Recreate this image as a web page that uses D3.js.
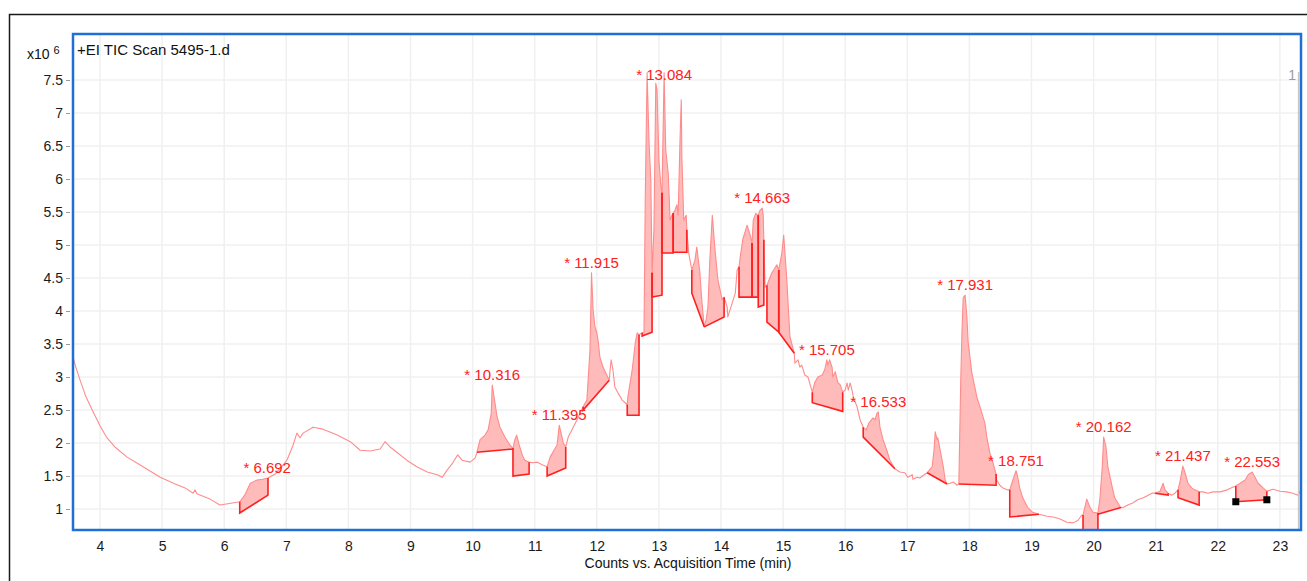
<!DOCTYPE html>
<html>
<head>
<meta charset="utf-8">
<script src="https://cdn.jsdelivr.net/npm/d3@7/dist/d3.min.js"></script>
<style>
  html, body { margin: 0; padding: 0; background: #fff; }
  svg { display: block; font-family: "Liberation Sans", Arial, Helvetica, sans-serif; }
</style>
</head>
<body>
<svg id="chart" width="1307" height="581"></svg>
<script>
// TIC trace: retention time (min) and abundance (x10^6 counts)
const retentionTime = [
  3.57, 3.61, 3.68, 3.77, 3.89, 4.00, 4.11, 4.24, 4.43, 4.64, 4.97, 5.21, 5.37, 5.50, 5.53, 5.56, 5.77, 5.93, 6.06, 6.25,
  6.33, 6.42, 6.53, 6.62, 6.705, 6.82, 6.95, 7.01, 7.11, 7.17, 7.22, 7.27, 7.43, 7.59, 7.82, 8.03, 8.19, 8.35, 8.51, 8.59,
  8.67, 8.78, 8.94, 9.10, 9.27, 9.43, 9.51, 9.59, 9.68, 9.76, 9.83, 9.96, 10.04, 10.07, 10.12, 10.20, 10.25, 10.30, 10.316, 10.36,
  10.39, 10.44, 10.52, 10.60, 10.65, 10.68, 10.71, 10.75, 10.80, 10.84, 10.91, 10.97, 11.04, 11.12, 11.20, 11.25, 11.33, 11.36, 11.395, 11.44,
  11.46, 11.50, 11.54, 11.60, 11.68, 11.78, 11.84, 11.86, 11.89, 11.915, 11.94, 11.97, 12.00, 12.02, 12.05, 12.10, 12.16, 12.20, 12.23, 12.26,
  12.29, 12.34, 12.41, 12.49, 12.50, 12.57, 12.62, 12.65, 12.68, 12.73, 12.76, 12.78, 12.81, 12.84, 12.87, 12.89, 12.92, 12.95, 12.97, 13.00,
  13.03, 13.05, 13.065, 13.084, 13.11, 13.15, 13.18, 13.21, 13.23, 13.26, 13.29, 13.31, 13.34, 13.36, 13.37, 13.40, 13.44, 13.45, 13.48, 13.53,
  13.58, 13.61, 13.66, 13.69, 13.73, 13.76, 13.79, 13.82, 13.86, 13.90, 13.95, 14.02, 14.05, 14.10, 14.11, 14.18, 14.23, 14.26, 14.29, 14.31,
  14.35, 14.42, 14.47, 14.50, 14.52, 14.56, 14.60, 14.63, 14.663, 14.68, 14.69, 14.71, 14.74, 14.82, 14.90, 14.93, 14.98, 15.01, 15.06, 15.11,
  15.18, 15.19, 15.24, 15.27, 15.30, 15.35, 15.40, 15.47, 15.51, 15.56, 15.63, 15.67, 15.705, 15.72, 15.75, 15.79, 15.80, 15.84, 15.88, 15.92,
  15.96, 16.00, 16.03, 16.05, 16.08, 16.11, 16.13, 16.19, 16.24, 16.29, 16.34, 16.38, 16.45, 16.48, 16.51, 16.533, 16.56, 16.61, 16.67, 16.72,
  16.80, 16.88, 16.96, 17.01, 17.08, 17.09, 17.16, 17.20, 17.29, 17.32, 17.40, 17.43, 17.45, 17.48, 17.49, 17.53, 17.58, 17.61, 17.64, 17.69,
  17.74, 17.80, 17.83, 17.86, 17.88, 17.90, 17.931, 17.96, 17.98, 18.04, 18.12, 18.17, 18.25, 18.28, 18.33, 18.38, 18.43, 18.44, 18.49, 18.54,
  18.61, 18.65, 18.70, 18.751, 18.77, 18.81, 18.86, 18.94, 19.02, 19.12, 19.25, 19.35, 19.46, 19.57, 19.67, 19.75, 19.81, 19.83, 19.89, 19.94,
  19.99, 20.07, 20.10, 20.14, 20.162, 20.20, 20.23, 20.30, 20.34, 20.43, 20.47, 20.55, 20.63, 20.71, 20.80, 20.88, 20.94, 20.99, 21.07, 21.12,
  21.15, 21.20, 21.26, 21.31, 21.36, 21.39, 21.437, 21.47, 21.52, 21.58, 21.63, 21.70, 21.76, 21.84, 21.92, 22.04, 22.15, 22.24, 22.29, 22.36,
  22.44, 22.49, 22.553, 22.60, 22.65, 22.73, 22.79, 22.89, 23.00, 23.11, 23.21, 23.29, 23.34
];
const abundance = [
  3.29, 3.15, 2.95, 2.71, 2.47, 2.26, 2.08, 1.94, 1.79, 1.67, 1.48, 1.38, 1.32, 1.24, 1.29, 1.23, 1.15, 1.06, 1.08, 1.11,
  1.21, 1.39, 1.44, 1.45, 1.47, 1.53, 1.67, 1.74, 1.97, 2.15, 2.08, 2.15, 2.24, 2.21, 2.12, 2.02, 1.89, 1.88, 1.91, 2.02,
  1.94, 1.86, 1.74, 1.64, 1.56, 1.52, 1.48, 1.59, 1.70, 1.82, 1.74, 1.71, 1.77, 1.86, 2.05, 2.12, 2.20, 2.45, 2.88, 2.61,
  2.42, 2.24, 2.09, 1.97, 1.92, 2.05, 2.12, 1.97, 1.82, 1.74, 1.71, 1.70, 1.71, 1.67, 1.64, 1.79, 1.92, 1.97, 2.27, 2.09,
  2.00, 1.94, 2.09, 2.20, 2.35, 2.55, 2.65, 2.95, 3.41, 4.58, 4.02, 3.76, 3.67, 3.56, 3.30, 3.15, 3.03, 2.95, 3.26, 3.11,
  2.85, 2.76, 2.65, 2.58, 2.70, 3.11, 3.52, 3.67, 3.64, 3.67, 3.67, 5.68, 7.61, 6.59, 5.98, 4.58, 5.23, 7.45, 7.35, 6.29,
  5.91, 5.79, 6.59, 7.61, 6.44, 6.09, 5.38, 5.45, 5.48, 5.53, 5.61, 5.45, 6.59, 7.20, 6.33, 5.38, 5.45, 5.23, 4.88, 4.62,
  4.77, 4.97, 4.58, 4.17, 3.76, 3.86, 4.06, 4.77, 5.45, 4.97, 4.47, 4.17, 4.21, 4.06, 3.91, 4.12, 4.27, 4.62, 4.67, 4.82,
  5.08, 5.30, 5.15, 5.03, 5.38, 5.48, 5.45, 5.53, 5.56, 5.45, 5.08, 4.36, 4.39, 4.58, 4.70, 4.62, 4.88, 5.15, 4.47, 3.61,
  3.36, 3.21, 3.26, 3.15, 3.18, 3.03, 3.00, 2.77, 2.92, 3.00, 3.03, 3.11, 3.26, 3.18, 3.26, 3.14, 3.00, 3.08, 2.92, 2.88,
  2.77, 2.80, 2.91, 2.80, 2.91, 2.80, 2.70, 2.55, 2.35, 2.24, 2.20, 2.30, 2.38, 2.35, 2.45, 2.47, 2.24, 2.05, 1.89, 1.74,
  1.61, 1.56, 1.55, 1.48, 1.52, 1.45, 1.48, 1.47, 1.53, 1.55, 1.64, 1.89, 2.17, 2.05, 2.08, 1.89, 1.64, 1.44, 1.38, 1.39,
  1.41, 1.36, 1.38, 2.91, 3.67, 4.20, 4.24, 3.91, 3.52, 3.06, 2.70, 2.55, 2.30, 2.09, 1.85, 1.70, 1.53, 1.44, 1.36, 1.32,
  1.29, 1.29, 1.44, 1.58, 1.52, 1.32, 1.17, 1.02, 0.95, 0.92, 0.89, 0.88, 0.85, 0.80, 0.79, 0.83, 0.91, 0.91, 1.15, 1.03,
  0.95, 0.94, 1.14, 1.64, 2.09, 1.94, 1.64, 1.33, 1.17, 1.03, 1.02, 1.06, 1.09, 1.14, 1.17, 1.21, 1.24, 1.24, 1.27, 1.39,
  1.29, 1.24, 1.21, 1.24, 1.29, 1.41, 1.65, 1.56, 1.39, 1.32, 1.29, 1.26, 1.26, 1.24, 1.26, 1.26, 1.29, 1.33, 1.35, 1.39,
  1.44, 1.52, 1.56, 1.48, 1.39, 1.32, 1.27, 1.30, 1.27, 1.26, 1.24, 1.21, 1.29
];

// Integrated peaks: start/end time and baseline level at each end
const peakStart     = [6.25, 10.07, 10.65, 11.20, 11.78, 12.49, 12.73, 12.89, 13.05, 13.23, 13.53, 13.73, 14.29, 14.50, 14.60, 14.74, 14.93, 15.47, 16.29, 17.32, 17.83, 18.65, 19.83, 20.07, 20.99, 21.36, 22.29];
const peakEnd       = [6.705, 10.65, 10.91, 11.50, 12.20, 12.68, 12.89, 13.05, 13.23, 13.45, 13.73, 14.05, 14.50, 14.60, 14.69, 14.93, 15.18, 15.96, 16.80, 17.64, 18.43, 19.12, 20.07, 20.43, 21.20, 21.70, 22.79];
const baselineStart = [0.94, 1.86, 1.50, 1.50, 2.50, 2.42, 3.62, 4.21, 4.88, 4.89, 4.27, 3.76, 4.21, 4.21, 4.06, 3.83, 3.68, 2.61, 2.09, 1.55, 1.38, 0.88, 0.45, 0.92, 1.24, 1.17, 1.11];
const baselineEnd   = [1.21, 1.91, 1.53, 1.62, 2.95, 2.42, 3.68, 4.24, 4.88, 4.89, 3.76, 3.91, 4.21, 4.21, 4.09, 3.68, 3.36, 2.48, 1.61, 1.38, 1.36, 0.92, 0.50, 1.02, 1.21, 1.06, 1.14];

// Labelled apex retention times
const peakLabels = [6.692, 10.316, 11.395, 11.915, 13.084, 14.663, 15.705, 16.533, 17.931, 18.751, 20.162, 21.437, 22.553];

// Selected integration end points (marked with squares)
const markerTime  = [22.29, 22.79];
const markerValue = [1.11, 1.14];

// Axis ticks
const xTicks = [4, 5, 6, 7, 8, 9, 10, 11, 12, 13, 14, 15, 16, 17, 18, 19, 20, 21, 22, 23];
const yTicks = [1, 1.5, 2, 2.5, 3, 3.5, 4, 4.5, 5, 5.5, 6, 6.5, 7, 7.5];

const svg = d3.select("#chart");
const plot = { left: 73, top: 34, right: 1301, bottom: 530 };

const x = d3.scaleLinear().domain([3.565, 23.34]).range([plot.left, plot.right]);
const y = d3.scaleLinear().domain([0.682, 8.197]).range([plot.bottom, plot.top]);

const trace = retentionTime.map((t, i) => [t, abundance[i]]);
function traceAt(t) {
  const i = d3.bisector(d => d[0]).left(trace, t);
  if (i <= 0) return trace[0][1];
  if (i >= trace.length) return trace[trace.length - 1][1];
  const a = trace[i - 1], b = trace[i];
  if (b[0] === t) return b[1];
  return a[1] + (b[1] - a[1]) * (t - a[0]) / (b[0] - a[0]);
}

// outer panel frame
svg.append("rect")
  .attr("x", 9.5).attr("y", 14.5).attr("width", 1320).attr("height", 600)
  .attr("fill", "none").attr("stroke", "#1a1a1a").attr("stroke-width", 1.5);

svg.append("defs").append("clipPath").attr("id", "plotClip")
  .append("rect")
  .attr("x", plot.left).attr("y", plot.top)
  .attr("width", plot.right - plot.left).attr("height", plot.bottom - plot.top);

// grid
const grid = svg.append("g").attr("stroke", "#f0f0f0").attr("stroke-width", 1.5);
grid.selectAll("line.gx").data(xTicks).join("line")
  .attr("class", "gx")
  .attr("x1", d => x(d)).attr("x2", d => x(d))
  .attr("y1", plot.top).attr("y2", plot.bottom);
grid.selectAll("line.gy").data(yTicks).join("line")
  .attr("class", "gy")
  .attr("x1", plot.left).attr("x2", plot.right)
  .attr("y1", d => y(d)).attr("y2", d => y(d));

const area = svg.append("g").attr("clip-path", "url(#plotClip)");

// integrated peak fills
const peaks = peakStart.map((s, i) => ({ s, e: peakEnd[i], b0: baselineStart[i], b1: baselineEnd[i] }));
const poly = p => {
  const pts = [[p.s, traceAt(p.s)]];
  trace.forEach(d => { if (d[0] > p.s && d[0] < p.e) pts.push(d); });
  pts.push([p.e, traceAt(p.e)], [p.e, p.b1], [p.s, p.b0]);
  return pts.map(d => [x(d[0]), y(d[1])]);
};
area.selectAll("path.fill").data(peaks).join("path")
  .attr("class", "fill")
  .attr("d", p => "M" + poly(p).join("L") + "Z")
  .attr("fill", "#ffbaba").attr("stroke", "none");

// TIC trace
const line = d3.line().x(d => x(d[0])).y(d => y(d[1]));
area.append("path").datum(trace)
  .attr("d", line)
  .attr("fill", "none").attr("stroke", "#ff8c8c").attr("stroke-width", 1.1)
  .attr("stroke-linejoin", "round");

// integration baselines and drop lines
const edges = area.append("g").attr("stroke", "#ff1f1f").attr("stroke-width", 1.6).attr("fill", "none");
edges.selectAll("path").data(peaks).join("path")
  .attr("d", p => d3.line()([
    [x(p.s), y(traceAt(p.s))], [x(p.s), y(p.b0)],
    [x(p.e), y(p.b1)], [x(p.e), y(traceAt(p.e))]
  ]));

// square markers
area.selectAll("rect.mk").data(markerTime).join("rect")
  .attr("class", "mk")
  .attr("x", (d, i) => x(d) - 3.5).attr("y", (d, i) => y(markerValue[i]) - 3.5)
  .attr("width", 7).attr("height", 7).attr("fill", "#000");

// peak labels
svg.append("g").selectAll("text").data(peakLabels).join("text")
  .attr("x", d => x(d))
  .attr("y", d => Math.max(y(traceAt(d)) - 5, y(7.5)))
  .attr("text-anchor", "middle")
  .attr("fill", "#ff2020").attr("font-size", 15)
  .text(d => "* " + d3.format(".3f")(d));

// axes
const yAxis = d3.axisLeft(y).tickValues(yTicks).tickSize(4).tickPadding(3).tickFormat(d3.format("~g"));
const gy = svg.append("g").attr("transform", `translate(${plot.left - 3},0)`).call(yAxis);
gy.select(".domain").remove();
gy.selectAll(".tick line").attr("stroke", "#999");
gy.selectAll(".tick text").attr("font-size", 14).attr("fill", "#1a1a1a").attr("font-family", null);

const xAxis = d3.axisBottom(x).tickValues(xTicks).tickSize(0).tickPadding(11).tickFormat(d3.format("d"));
const gx = svg.append("g").attr("transform", `translate(0,${plot.bottom})`).call(xAxis);
gx.select(".domain").remove();
gx.selectAll(".tick text").attr("font-size", 14).attr("fill", "#1a1a1a").attr("font-family", null);

// right-side page indicator
svg.append("line")
  .attr("x1", plot.right - 2.4).attr("x2", plot.right - 2.4)
  .attr("y1", 72).attr("y2", plot.bottom)
  .attr("stroke", "#c8c8c8").attr("stroke-width", 1.5);
svg.append("text").attr("x", plot.right - 5).attr("y", 80)
  .attr("text-anchor", "end").attr("font-size", 14).attr("fill", "#9a9a9a").text("1");

// plot frame
svg.append("rect")
  .attr("x", plot.left).attr("y", plot.top)
  .attr("width", plot.right - plot.left).attr("height", plot.bottom - plot.top)
  .attr("fill", "none").attr("stroke", "#1f6fd6").attr("stroke-width", 2.5);

// titles
svg.append("text").attr("x", 77).attr("y", 55).attr("font-size", 15).attr("fill", "#111")
  .text("+EI TIC Scan 5495-1.d");
const unit = svg.append("text").attr("x", 27).attr("y", 59).attr("font-size", 14).attr("fill", "#111");
unit.append("tspan").text("x10 ");
unit.append("tspan").attr("dy", -5).attr("font-size", 11).text("6");
svg.append("text").attr("x", (plot.left + plot.right) / 2 + 1).attr("y", 568)
  .attr("text-anchor", "middle").attr("font-size", 14).attr("fill", "#111")
  .text("Counts vs. Acquisition Time (min)");
</script>
</body>
</html>
